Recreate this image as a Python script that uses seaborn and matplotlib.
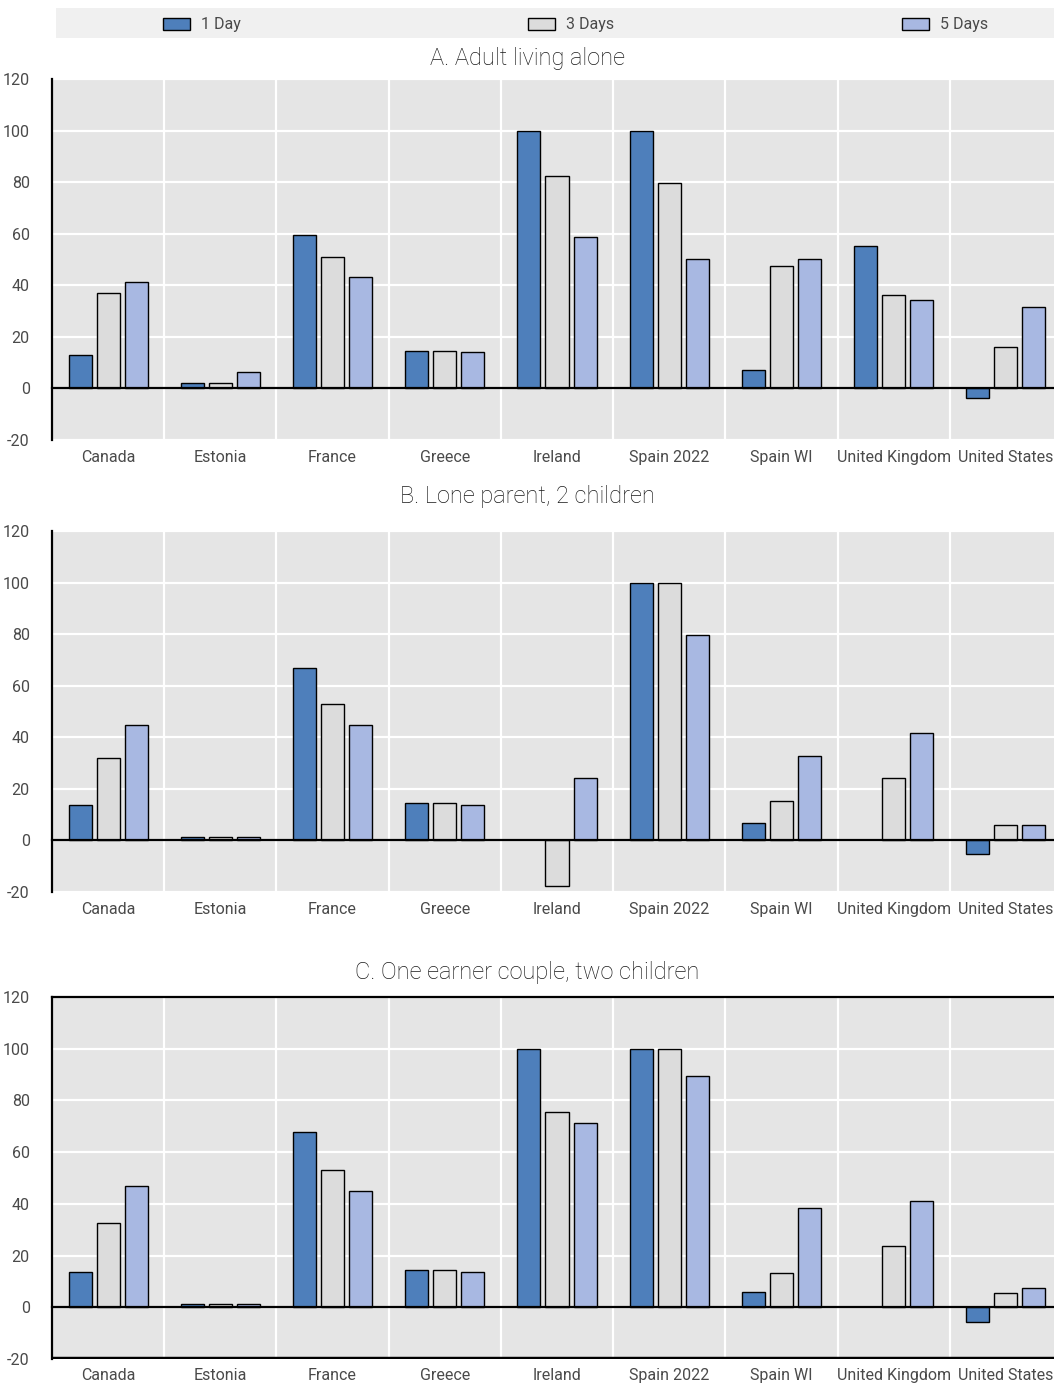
import numpy as np
import pandas as pd
import matplotlib
matplotlib.use("Agg")
import matplotlib.pyplot as plt
import seaborn as sns
from matplotlib.patches import Patch, Rectangle

countries = ["Canada", "Estonia", "France", "Greece", "Ireland",
             "Spain 2022", "Spain WI", "United Kingdom", "United States"]
durations = ["1 Day", "3 Days", "5 Days"]
colors = ["#4E7FBB", "#DCDCDC", "#A8B8E2"]

titles = ["A. Adult living alone", "B. Lone parent, 2 children",
          "C. One earner couple, two children"]

# panel A - adult living alone
alone_1 = [13, 2, 59.4, 14.6, 100, 100, 7, 55.3, -3.6]
alone_3 = [37, 2, 50.9, 14.6, 82.5, 79.5, 47.5, 36.3, 16]
alone_5 = [41.3, 6.2, 43.3, 14, 58.8, 50.3, 50.3, 34.2, 31.4]

# panel B - lone parent
lone_1 = [13.8, 1.2, 67, 14.5, np.nan, 100, 6.9, np.nan, -5.2]
lone_3 = [32.1, 1.2, 53, 14.5, -17.7, 100, 15.3, 24.3, 6.1]
lone_5 = [44.6, 1.2, 44.6, 13.8, 24.3, 79.7, 32.7, 41.8, 6.1]

# panel C - one earner couple
couple_1 = [13.8, 1.2, 67.8, 14.5, 100, 100, 6.1, np.nan, -5.8]
couple_3 = [32.7, 1.2, 53, 14.5, 75.5, 100, 13.2, 23.7, 5.4]
couple_5 = [46.8, 1.2, 44.8, 13.8, 71.3, 89.5, 38.4, 41.1, 7.5]

yticks = [-20, 0, 20, 40, 60, 80, 100, 120]

sns.set_style("white")
plt.rcParams['font.family'] = ['Roboto', 'DejaVu Sans']
plt.rcParams['axes.unicode_minus'] = False

TXT = "#4a4a4a"
W, H = 1054, 1385
fig = plt.figure(figsize=(W / 100, H / 100), dpi=100)

panels = [(alone_1, alone_3, alone_5), (lone_1, lone_3, lone_5),
          (couple_1, couple_3, couple_5)]
tops = [79, 531, 997]
bottoms = [440, 892, 1359]
title_y = [58, 496, 973]

for i, (vals, t, b) in enumerate(zip(panels, tops, bottoms)):
    ax = fig.add_axes([52 / W, 1 - b / H, (1062 - 52) / W, (b - t) / H])
    df = pd.DataFrame({
        "country": countries * 3,
        "duration": [d for d in durations for _ in countries],
        "value": list(vals[0]) + list(vals[1]) + list(vals[2]),
    })
    sns.barplot(data=df, x="country", y="value", hue="duration",
                order=countries, hue_order=durations, palette=colors,
                saturation=1, width=0.75, gap=0.18, edgecolor="black",
                linewidth=1, errorbar=None, legend=False, ax=ax, zorder=2)
    ax.set_facecolor("#E5E5E5")
    ax.set_xlim(-0.5, len(countries) - 0.5)
    ax.set_ylim(-20, 120)
    ax.set_yticks(yticks)
    ax.set_yticks([-20, 120], minor=True)
    ax.set_xticks(np.arange(len(countries) - 1) + 0.5, minor=True)
    ax.set_axisbelow(True)
    ax.grid(axis="y", which="major", color="white", lw=1.6)
    ax.grid(axis="x", which="minor", color="white", lw=1.6)
    ax.set_xlabel("")
    ax.set_ylabel("")

    # bottom spine sits on the zero line, labels pushed down below -20
    ax.spines["bottom"].set_position(("data", 0))
    ax.spines["bottom"].set_color("black")
    ax.spines["bottom"].set_linewidth(1.6)
    ax.spines["bottom"].set_zorder(3)
    ax.tick_params(axis="x", which="major", length=0, labelsize=11.5,
                   labelcolor=TXT, pad=44)
    ax.tick_params(axis="x", which="minor", direction="in", length=4,
                   width=1.5, color="black")
    ax.tick_params(axis="y", which="major", length=0, labelsize=11.5,
                   labelcolor=TXT, pad=16)
    ax.tick_params(axis="y", which="minor", direction="in", length=4,
                   width=1.5, color="black")

    for s in ["top", "right"]:
        ax.spines[s].set_visible(False)
    ax.spines["left"].set_color("black")
    ax.spines["left"].set_linewidth(1.6)
    if i == 2:
        ax.spines["top"].set_visible(True)
        ax.spines["top"].set_color("black")
        ax.spines["top"].set_linewidth(1.6)
        ax.axhline(-20, color="black", lw=3.2, clip_on=True)

    fig.text(0.5, 1 - title_y[i] / H, titles[i], ha="center", va="center",
             fontsize=17, color="#1a1a1a", fontweight="light")

# legend band
fig.patches.append(Rectangle((56 / W, 1 - 38 / H), (W - 56) / W, 30 / H,
                             transform=fig.transFigure, facecolor="#F0F0F0",
                             edgecolor="none", zorder=0))
handles = [Patch(facecolor=c, edgecolor="black", linewidth=1) for c in colors]
fig.legend(handles, durations, loc="center", ncol=3, mode="expand",
           bbox_to_anchor=(163 / W, 1 - 35 / H, (988 - 163) / W, 20 / H),
           frameon=False, fontsize=11.5, labelcolor=TXT,
           handlelength=1.7, handleheight=0.85, handletextpad=0.7,
           borderpad=0, borderaxespad=0)

fig.savefig("out.png", dpi=100)
